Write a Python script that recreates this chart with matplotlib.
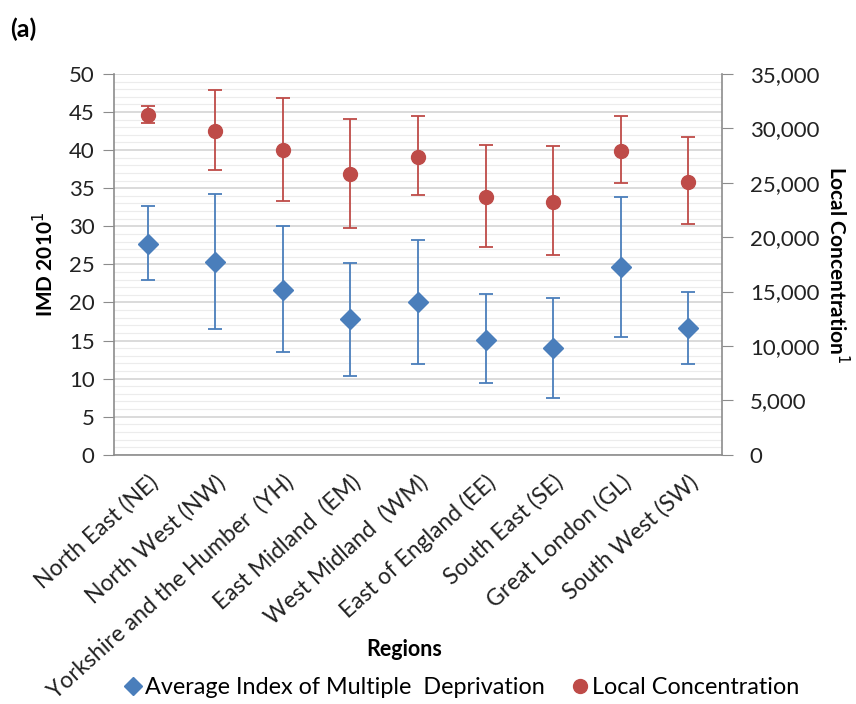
import matplotlib
matplotlib.use("Agg")
import matplotlib.pyplot as plt
from matplotlib.ticker import MultipleLocator, FuncFormatter
from matplotlib.lines import Line2D

plt.rcParams['font.family'] = ['Lato', 'DejaVu Sans']

regions = ["North East (NE)", "North West (NW)", "Yorkshire and the Humber  (YH)",
           "East Midland  (EM)", "West Midland  (WM)", "East of England (EE)",
           "South East (SE)", "Great London (GL)", "South West (SW)"]

# average IMD 2010 with error bar ends
imd = [27.7, 25.3, 21.6, 17.8, 20.0, 15.1, 14.0, 24.6, 16.7]
imd_top = [32.6, 34.3, 30.0, 25.2, 28.2, 21.1, 20.6, 33.9, 21.4]
imd_bot = [23.0, 16.5, 13.5, 10.4, 11.9, 9.4, 7.4, 15.5, 11.9]

# local concentration with error bar ends
lc = [31230, 29790, 28020, 25780, 27400, 23730, 23210, 27960, 25110]
lc_top = [32090, 33530, 32820, 30840, 31170, 28500, 28360, 31170, 29240]
lc_bot = [30470, 26180, 23360, 20850, 23880, 19080, 18370, 24960, 21220]

blue = "#4a7ebb"
red = "#be4b48"
x = list(range(len(regions)))

fig = plt.figure(figsize=(8.56, 7.04), dpi=100)
ax = fig.add_axes([114 / 856, 0.354, 608 / 856, 0.541])
ax2 = ax.twinx()

ax.errorbar(x, imd, yerr=[[m - b for m, b in zip(imd, imd_bot)],
                          [t - m for m, t in zip(imd, imd_top)]],
            fmt="D", color=blue, ms=10, ecolor=blue, elinewidth=1.3,
            capsize=5, capthick=1.3, zorder=3)
ax2.errorbar(x, lc, yerr=[[m - b for m, b in zip(lc, lc_bot)],
                          [t - m for m, t in zip(lc, lc_top)]],
             fmt="o", color=red, ms=10, ecolor=red, elinewidth=1.3,
             capsize=5, capthick=1.3, zorder=3)

ax.set_xlim(-0.5, len(regions) - 0.5)
ax.set_ylim(0, 50)
ax2.set_ylim(0, 35000)
ax.yaxis.set_major_locator(MultipleLocator(5))
ax.yaxis.set_minor_locator(MultipleLocator(1))
ax2.yaxis.set_major_locator(MultipleLocator(5000))
ax2.yaxis.set_major_formatter(FuncFormatter(lambda v, p: f"{int(v):,}"))

ax.grid(which="minor", axis="y", color="#ececec", lw=0.8)
ax.grid(which="major", axis="y", color="#d4d4d4", lw=1.2)
ax.set_axisbelow(True)

for a in (ax, ax2):
    for s in a.spines.values():
        s.set_visible(False)
    a.tick_params(axis="y", which="major", length=8, color="#8c8c8c",
                  labelsize=16, labelcolor="#222222")
    a.tick_params(axis="y", which="minor", length=0)
ax.tick_params(axis="y", pad=6)
ax2.tick_params(axis="y", pad=12)
ax.spines["left"].set_visible(True)
ax.spines["bottom"].set_visible(True)
ax2.spines["right"].set_visible(True)
for s in (ax.spines["left"], ax.spines["bottom"], ax2.spines["right"]):
    s.set_color("#8c8c8c")
    s.set_linewidth(1.2)

ax.set_xticks(x)
ax.set_xticklabels(regions, rotation=42, ha="right", rotation_mode="anchor",
                   fontsize=16.5, color="#222222")
ax.tick_params(axis="x", length=0, pad=12)

ax.set_ylabel("IMD 2010$^1$", fontsize=15, fontweight="bold", labelpad=8)
ax2.set_ylabel("Local Concentration$^1$", fontsize=15, fontweight="bold",
               rotation=-90, labelpad=22)
fig.text(0.472, 0.068, "Regions", fontsize=15.5, fontweight="bold", ha="center")
fig.text(0.012, 0.948, "(a)", fontsize=18, fontweight="bold")

handles = [Line2D([], [], marker="D", color=blue, ls="none", ms=9),
           Line2D([], [], marker="o", color=red, ls="none", ms=10)]
fig.legend(handles, ["Average Index of Multiple  Deprivation", "Local Concentration"],
           loc="lower center", bbox_to_anchor=(0.535, -0.022), ncol=2, frameon=False,
           fontsize=16.8, handletextpad=-0.2, handlelength=1.4, columnspacing=0.8)

fig.savefig("out.png", dpi=100)
